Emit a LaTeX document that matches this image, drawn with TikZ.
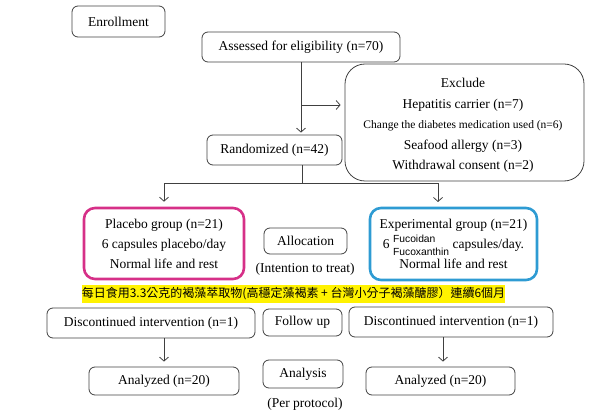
\documentclass[tikz,border=0pt]{standalone}
\usepackage{fontspec}
\setmainfont{Liberation Serif}
\newfontfamily\cjk{Noto Sans CJK TC}
\newfontfamily\fucofont{Liberation Sans}
\usetikzlibrary{arrows.meta}
\definecolor{boxgray}{HTML}{404040}
\definecolor{plmag}{HTML}{D63088}
\definecolor{exblue}{HTML}{2E9BD3}
\begin{document}
\begin{tikzpicture}[x=1pt,y=-1pt,
  txt/.style={font=\fontsize{13.5}{20}\selectfont, inner sep=0pt, align=center},
  box/.style={txt, draw=boxgray, line width=0.8pt, rounded corners=6pt},
  grp/.style={txt, line width=2.6pt, rounded corners=11pt},
  conn/.style={draw=boxgray, line width=0.8pt},
  arr/.style={conn, -{Straight Barb[length=4pt,width=9pt]}}]
\useasboundingbox (0,0) rectangle (600,414);

\node[box, minimum width=93pt, minimum height=31pt] (enroll) at (118.5,21.5) {Enrollment};
\node[box, minimum width=198pt, minimum height=30pt] (assess) at (301,47) {Assessed for eligibility (n=70)};
\node[box, rounded corners=20pt, minimum width=239pt, minimum height=117pt] (excl) at (464.5,122.5) {};
\node[txt] (exclA) at (463,83) {Exclude};
\node[txt] (exclB) at (463,105) {Hepatitis carrier (n=7)};
\node[txt, font=\fontsize{11.5}{12}\selectfont] (exclC) at (463,126) {Change the diabetes medication used (n=6)};
\node[txt] (exclD) at (463,146) {Seafood allergy (n=3)};
\node[txt] (exclE) at (463,166) {Withdrawal consent (n=2)};
\node[box, minimum width=135pt, minimum height=30pt] (rand) at (274.5,150) {Randomized (n=42)};

\node[grp, draw=plmag, minimum width=160pt, minimum height=71pt] (plac) at (164,243.5)
  {Placebo group (n=21)\\6 capsules placebo/day\\Normal life and rest};
\node[box, minimum width=83pt, minimum height=26pt] (alloc) at (305.5,241) {Allocation};
\node[txt] (itt) at (305,269) {(Intention to treat)};
\node[grp, draw=exblue, minimum width=167pt, minimum height=72pt] (expg) at (453.5,244)
  {Experimental group (n=21)\\6 \smash{{\fucofont\fontsize{10.3}{13}\selectfont\begin{tabular}[c]{@{}l@{}}Fucoidan\\Fucoxanthin\end{tabular}}} capsules/day.\\Normal life and rest};

\node[fill=yellow, inner sep=0pt, minimum width=423pt, minimum height=18pt, font=\cjk\fontsize{12}{14}\selectfont] (band) at (293.5,294)
  {每日食用3.3公克的褐藻萃取物(高穩定藻褐素 + 台灣小分子褐藻醣膠）連續6個月};

\node[box, minimum width=208pt, minimum height=30pt] (discL) at (151,323) {Discontinued intervention (n=1)};
\node[box, minimum width=79pt, minimum height=27pt] (follow) at (302.5,322.5) {Follow up};
\node[box, minimum width=204pt, minimum height=30pt] (discR) at (451,322) {Discontinued intervention (n=1)};
\node[box, minimum width=150pt, minimum height=28pt] (analL) at (164,381) {Analyzed (n=20)};
\node[box, minimum width=80pt, minimum height=28pt] (analys) at (303,374) {Analysis};
\node[txt] (pp) at (305,404) {(Per protocol)};
\node[box, minimum width=149pt, minimum height=28pt] (analR) at (440.5,381) {Analyzed (n=20)};

\coordinate (branch) at (301,105);
\coordinate (rb) at (302,183);
\coordinate (rightin) at (438,207);
\draw[arr, shorten >=2pt] (assess.south) -- (assess.south |- rand.north);
\draw[arr, shorten >=4pt] (branch) -- (branch -| excl.west);
\draw[conn] (rand.south -| rb) -- (rb);
\draw[arr, shorten >=5pt] (rb) -| (plac.north);
\draw[arr, shorten >=5pt] (rb) -| (rightin);
\draw[arr, shorten >=5pt] (analL.north |- discL.south) -- (analL.north);
\draw[arr, shorten >=5pt] ([xshift=2.5pt]analR.north |- discR.south) -- ([xshift=2.5pt]analR.north);
\end{tikzpicture}
\end{document}
